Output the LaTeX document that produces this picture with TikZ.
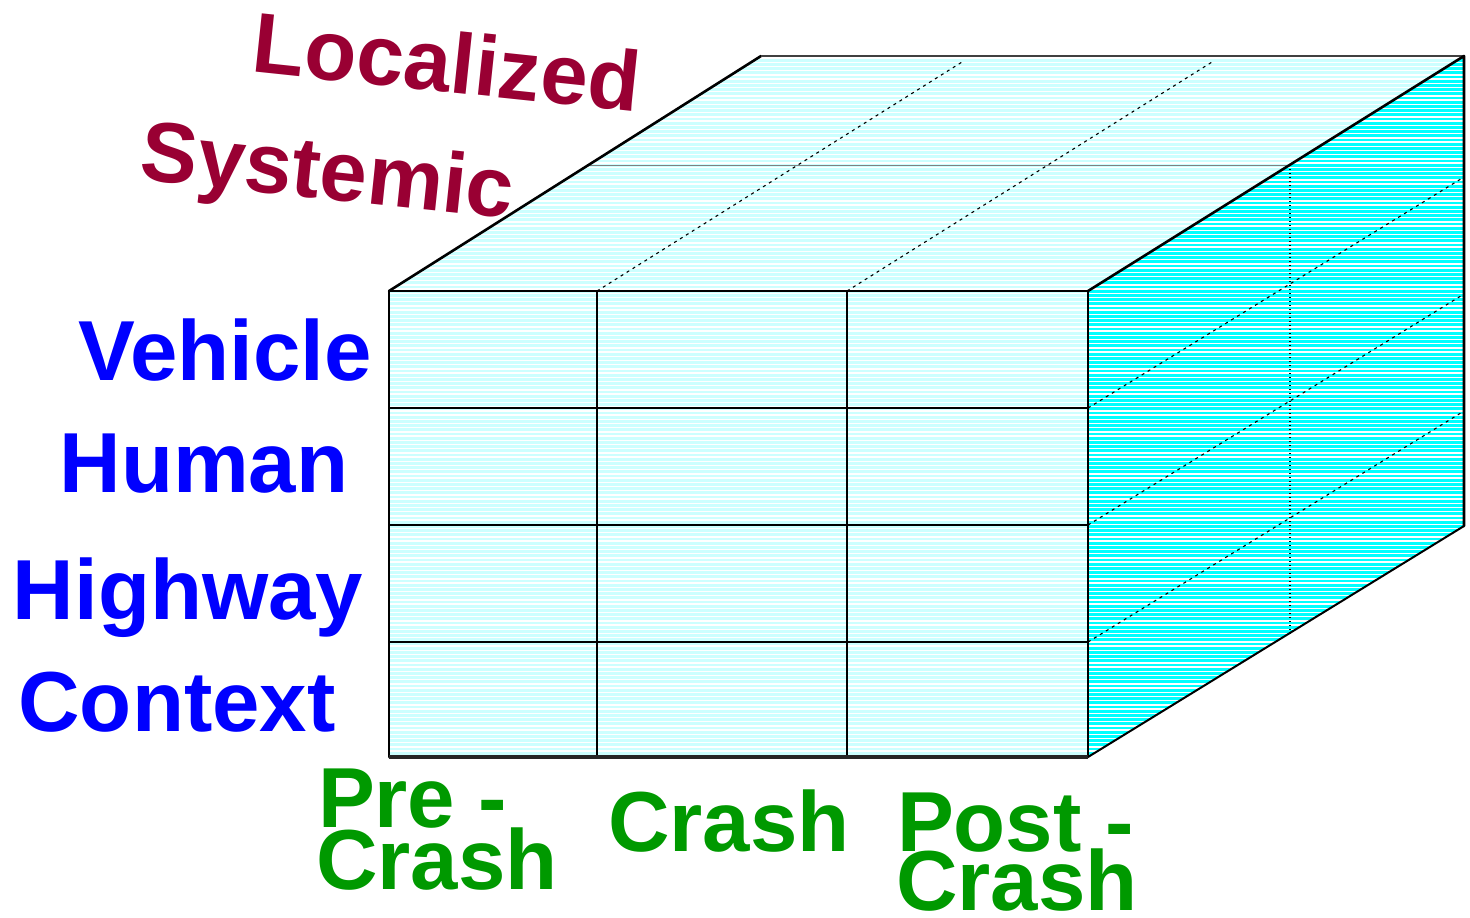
\documentclass[tikz,border=0pt]{standalone}
\usepackage{fontspec}
\setmainfont{Liberation Sans}
\definecolor{factorblue}{HTML}{0000FF}
\definecolor{phasegreen}{HTML}{009900}
\definecolor{levelred}{HTML}{990033}
\definecolor{paleface}{HTML}{CCFFFF}
\definecolor{sideface}{HTML}{00FFFF}

\begin{document}
\begin{tikzpicture}[x=0.5pt,y=-0.5pt,
  txt/.style={font=\fontsize{42.6}{31}\selectfont\bfseries, inner sep=0pt, outer sep=0pt},
  rowlab/.style={txt, text=factorblue, anchor=base},
  phaselab/.style={txt, text=phasegreen, anchor=base west},
  levellab/.style={txt, text=levelred, anchor=base, rotate=-6},
  rim/.style={line width=1.3pt, line join=round, line cap=round},
  cellline/.style={line width=1.1pt},
  depthline/.style={line width=0.55pt, dash pattern=on 1.5pt off 2pt},
  midline/.style={line width=0.5pt, draw=black!50},
  dotline/.style={line width=0.55pt, dash pattern=on 0.6pt off 1.4pt}]

\useasboundingbox (0,0) rectangle (1470,917);

% corners of the box
\coordinate (FTL) at (389,291);
\coordinate (FTR) at (1088,291);
\coordinate (FBL) at (389,757);
\coordinate (FBR) at (1088,757);
\coordinate (BTL) at (761,56);
\coordinate (BTR) at (1464,56);
\coordinate (BBR) at (1464,526);

% faces
\fill[paleface] (FTL) -- (BTL) -- (BTR) -- (FTR) -- cycle;
\fill[paleface] (FTL) rectangle (FBR);
\fill[sideface] (FTR) -- (BTR) -- (BBR) -- (FBR) -- cycle;

% horizontal texture
\begin{scope}
  \clip (FTL) -- (BTL) -- (BTR) -- (BBR) -- (FBR) -- (FBL) -- cycle;
  \foreach \y in {58,62.2,...,758}
    \draw[white, line width=0.7pt] (380,\y) -- (1470,\y);
\end{scope}

% mid-depth guides
\coordinate (TM1) at (588,165);
\coordinate (TM2) at (1290,165);
\coordinate (RM2) at (1290,634);
\draw[midline] (TM1) -- (TM2);
\draw[dotline] (TM2) -- (RM2);

% depth lines on the top face
\coordinate (C1) at (597,291);
\coordinate (C2) at (847,291);
\coordinate (C1b) at (962,62);
\coordinate (C2b) at (1212,62);
\draw[depthline] (C1) -- (C1b);
\draw[depthline] (C2) -- (C2b);

% depth lines on the side face
\foreach \y in {408,525,642}{
  \coordinate (R\y) at (1088,\y);
  \coordinate (S\y) at (1464,\y-231);
  \draw[depthline] (R\y) -- (S\y);
}

% front grid
\coordinate (C1d) at (597,757);
\coordinate (C2d) at (847,757);
\draw[cellline] (C1) -- (C1d);
\draw[cellline] (C2) -- (C2d);
\foreach \y in {408,525,642}{
  \coordinate (L\y) at (389,\y);
  \draw[cellline] (L\y) -- (R\y);
}

% outline
\draw[rim] (FBL) -- (FTL) -- (FTR) -- (FBR);
\draw[line width=1.8pt, draw=black!85] (FBL) -- (FBR);
\draw[rim] (FTL) -- (BTL);
\draw[line width=1.4pt, draw=black!75] (BTL) -- (BTR);
\draw[rim] (FTR) -- (BTR) -- (BBR);
\draw[line width=1pt] (FBR) -- (BBR);

% level labels
\node[levellab] (loc) at (444,92) {Localized};
\node[levellab] (sys) at (325,199) {Systemic};

% factor labels
\node[rowlab] (veh) at (225,380) {Vehicle};
\node[rowlab] (hum) at (204,492) {Human};
\node[rowlab] (hwy) at (188,619) {Highway};
\node[rowlab] (ctx) at (177,731) {Context};

% phase labels
\node[phaselab] (pre1) at (318,827) {Pre -};
\node[phaselab] (pre2) at (316,889) {Crash};
\node[phaselab] (mid) at (608,851) {Crash};
\node[phaselab] (post1) at (897,851) {Post -};
\node[phaselab] (post2) at (896,910) {Crash};
\end{tikzpicture}
\end{document}
